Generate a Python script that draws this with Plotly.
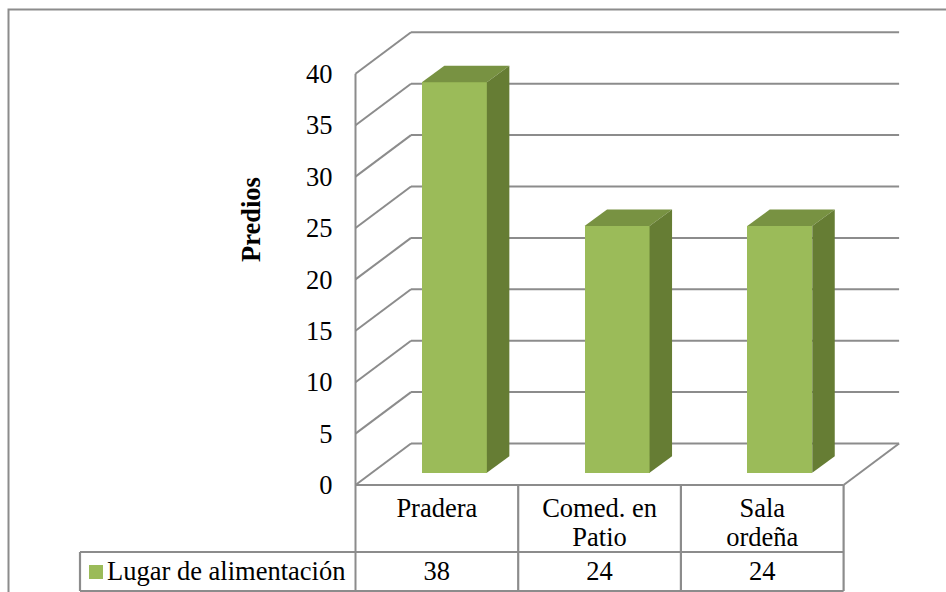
import plotly.graph_objects as go

# Chart data
categories = ["Pradera", "Comed. en<br>Patio", "Sala<br>ordeña"]
values = [38, 24, 24]
series_name = "Lugar de alimentación"
y_ticks = [0, 5, 10, 15, 20, 25, 30, 35, 40]
y_title = "Predios"

# Colours and fonts
FRONT = "#9BBB59"
TOP = "#789242"
SIDE = "#667D34"
LINE = "#8C8C8C"
FONT = "Liberation Serif"
FONT_SIZE = 26.5

# Page geometry: the axes span the whole page, with the spines placed at the floor's front corner
W, H = 946, 592
LEFT, BOTTOM = 355.5, 485
PX_X = 162.7   # pixels per category
PX_Y = 10.28   # pixels per value unit


def dx(px):
    return px / PX_X


def dy(px):
    return px / PX_Y


# Oblique projection: offset of the back wall and of the bars inside the floor
WALL_DX, WALL_DY = dx(55.5), dy(41.5)
BAR_LIFT = dy(12.2)
BAR_SHIFT = dx(17.5)
BAR_WIDTH = dx(65)
BAR_DX, BAR_DY = dx(22.5), dy(16.5)
N = len(categories)

# Table rows, measured downwards from the floor's front edge
ROW1 = dy(-67)
ROW2 = dy(-106)
LEGEND_LEFT = dx(80 - LEFT)
ROW2_MID = (ROW1 + ROW2) / 2 + dy(-1.5)
SECOND_LINE = dy(-54)

fig = go.Figure()


def line(xs, ys, width=2, color=LINE):
    fig.add_trace(go.Scatter(
        x=xs, y=ys, mode="lines", hoverinfo="skip",
        line=dict(color=color, width=width), showlegend=False,
    ))


# Front faces
mids = [i + 0.5 for i in range(N)]
centers = [m + BAR_SHIFT for m in mids]
fig.add_trace(go.Bar(
    x=centers, y=values, base=[BAR_LIFT] * N, width=BAR_WIDTH,
    marker=dict(color=FRONT, line=dict(width=0)), name=series_name, showlegend=False,
))

# Top and side faces of each bar
for c, v in zip(centers, values):
    x0, x1 = c - BAR_WIDTH / 2, c + BAR_WIDTH / 2
    y0, y1 = BAR_LIFT, BAR_LIFT + v
    fig.add_trace(go.Scatter(
        x=[x0, x1, x1 + BAR_DX, x0 + BAR_DX, x0],
        y=[y1, y1, y1 + BAR_DY, y1 + BAR_DY, y1],
        mode="lines", fill="toself", fillcolor=TOP, line=dict(width=0),
        hoverinfo="skip", showlegend=False,
    ))
    fig.add_trace(go.Scatter(
        x=[x1, x1 + BAR_DX, x1 + BAR_DX, x1, x1],
        y=[y0, y0 + BAR_DY, y1 + BAR_DY, y1, y0],
        mode="lines", fill="toself", fillcolor=SIDE, line=dict(width=0),
        hoverinfo="skip", showlegend=False,
    ))

# Gridlines on the back wall sit behind the bars
shapes = [
    dict(type="line", layer="below", xref="x", yref="y",
         x0=WALL_DX, x1=N + WALL_DX, y0=t + WALL_DY, y1=t + WALL_DY,
         line=dict(color=LINE, width=2))
    for t in y_ticks
]

# Left wall: slanted gridlines and the front edge
for t in y_ticks:
    line([0, WALL_DX], [t, t + WALL_DY])
line([0, 0], [y_ticks[-1], ROW2], width=2)

# Floor edge on the right
line([N, N + WALL_DX], [0, WALL_DY])

# Data table grid
line([0, N], [0, 0], width=2.2)
line([LEGEND_LEFT, N], [ROW1, ROW1], width=2.2)
line([LEGEND_LEFT, N], [ROW2, ROW2], width=2.2)
line([LEGEND_LEFT, LEGEND_LEFT], [ROW1, ROW2], width=2.2)
for i in range(1, N + 1):
    line([i, i], [0, ROW2], width=2.2)

# Outer frame of the chart, open on the right and at the bottom
line([dx(8.5 - LEFT), dx(8.5 - LEFT), dx(W + 2 - LEFT)],
     [dy(BOTTOM - H - 4), dy(BOTTOM - 9.5), dy(BOTTOM - 9.5)], width=2)

# Second lines of the wrapped category labels
second = [(m, c.split("<br>")[1]) for m, c in zip(mids, categories) if "<br>" in c]
fig.add_trace(go.Scatter(
    x=[s[0] for s in second], y=[SECOND_LINE] * len(second), text=[s[1] for s in second],
    mode="text", textposition="middle center",
    textfont=dict(family=FONT, size=FONT_SIZE, color="#000000"),
    hoverinfo="skip", showlegend=False,
))

# Data table values
fig.add_trace(go.Scatter(
    x=mids, y=[ROW2_MID] * N,
    text=[str(v) for v in values], mode="text", textposition="middle center",
    textfont=dict(family=FONT, size=FONT_SIZE, color="#000000"),
    hoverinfo="skip", showlegend=False,
))

# Legend key and series name in the table
fig.add_trace(go.Scatter(
    x=[dx(96 - LEFT)], y=[ROW2_MID + dy(1)], mode="markers",
    marker=dict(symbol="square", size=14, color=FRONT, line=dict(width=0)),
    hoverinfo="skip", showlegend=False,
))
fig.add_trace(go.Scatter(
    x=[dx(107 - LEFT)], y=[ROW2_MID], text=[series_name],
    mode="text", textposition="middle right",
    textfont=dict(family=FONT, size=FONT_SIZE, color="#000000"),
    hoverinfo="skip", showlegend=False,
))

fig.update_layout(
    width=W, height=H, autosize=False,
    margin=dict(l=0, r=0, t=0, b=0, autoexpand=False),
    paper_bgcolor="white", plot_bgcolor="white",
    font=dict(family=FONT, size=FONT_SIZE, color="#000000"),
    showlegend=False, shapes=shapes, bargap=0,
    xaxis=dict(
        range=[dx(-LEFT), dx(W - LEFT)], anchor="free", position=(H - BOTTOM) / H,
        tickmode="array", tickvals=mids, ticktext=[c.split("<br>")[0] for c in categories],
        showgrid=False, zeroline=False, showline=False, ticks="",
        ticklabelstandoff=4, fixedrange=True,
    ),
    yaxis=dict(
        range=[dy(BOTTOM - H), dy(BOTTOM)], anchor="free", position=LEFT / W,
        tickmode="array", tickvals=y_ticks, ticktext=[str(t) for t in y_ticks],
        showgrid=False, zeroline=False, showline=False, ticks="",
        ticklabelstandoff=23, fixedrange=True,
    ),
    annotations=[dict(
        text=f"<b>{y_title}</b>", textangle=-90, xref="x", yref="y",
        x=dx(251 - LEFT), y=dy(BOTTOM - 220), showarrow=False,
        xanchor="center", yanchor="middle",
        font=dict(family=FONT, size=FONT_SIZE),
    )],
)

fig.write_html("out.html", config={"displayModeBar": False})
